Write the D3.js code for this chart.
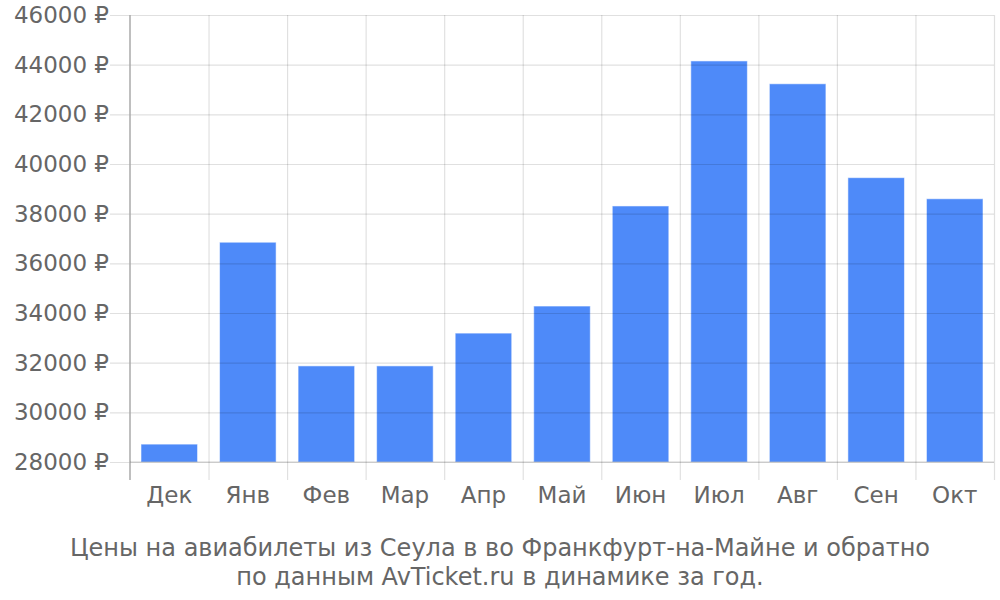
<!DOCTYPE html>
<html><head><meta charset="utf-8">
<script src="https://cdn.jsdelivr.net/npm/d3@7"></script>
<style>body{margin:0;background:#fff}svg{display:block}</style>
</head><body>
<svg id="c" width="1000" height="600"></svg>
<script>
const categories = ["Дек","Янв","Фев","Мар","Апр","Май","Июн","Июл","Авг","Сен","Окт"];
const prices = [28720, 36850, 31870, 31870, 33190, 34280, 38310, 44150, 43230, 39450, 38600];
const yTicks = [28000,30000,32000,34000,36000,38000,40000,42000,44000,46000];
const captionLines = ["Цены на авиабилеты из Сеула в во Франкфурт-на-Майне и обратно","по данным AvTicket.ru в динамике за год."];

const svg = d3.select("#c");
const font = "DejaVu Sans, sans-serif";
const L = 130, R = 994, T = 15, B = 462;
const x = d3.scaleBand().domain(categories).range([L, R]).paddingInner(0.28).paddingOuter(0.14);
const y = d3.scaleLinear().domain([28000, 46000]).range([B, T]);

// bars
svg.append("g").selectAll("rect").data(prices).join("rect")
  .attr("x", (d,i) => x(categories[i]))
  .attr("width", x.bandwidth())
  .attr("y", d => y(d))
  .attr("height", d => B - y(d))
  .attr("fill", "#4e8af9")
  .attr("stroke", "rgba(255,255,255,0.55)")
  .attr("stroke-width", 1);

// grid horizontal
const gy = svg.append("g").attr("transform", `translate(${R},0)`);
gy.call(d3.axisLeft(y).tickValues(yTicks).tickSize(R - 110).tickFormat(""));
gy.select(".domain").remove();
gy.selectAll("line").attr("stroke", "rgba(0,0,0,0.12)").attr("stroke-width", 1.2);

// labels
const gl = svg.append("g").attr("transform", `translate(110,0)`);
gl.call(d3.axisLeft(y).tickValues(yTicks).tickSize(0).tickPadding(1).tickFormat(d => d + " ₽"));
gl.select(".domain").remove();
gl.selectAll("text").attr("font-family", font).attr("font-size", 23).attr("fill", "#666");

// vertical grid lines at band boundaries
const xb = d3.scaleLinear().domain([0, categories.length]).range([L, R]);
const gx = svg.append("g").attr("transform", `translate(0,480)`);
gx.call(d3.axisBottom(xb).tickValues(d3.range(1, categories.length+1)).tickSize(-(480 - T)).tickFormat(""));
gx.select(".domain").remove();
gx.selectAll("line").attr("stroke", "rgba(0,0,0,0.12)").attr("stroke-width", 1.2);

// left axis line
svg.append("line").attr("x1", L).attr("x2", L).attr("y1", T).attr("y2", 480)
  .attr("stroke", "#aaa").attr("stroke-width", 1.5);
// bottom baseline
svg.append("line").attr("x1", L).attr("x2", R).attr("y1", B).attr("y2", B)
  .attr("stroke", "rgba(0,0,0,0.18)").attr("stroke-width", 1.2);

// category labels
const gc = svg.append("g").attr("transform", `translate(0,${B})`);
gc.call(d3.axisBottom(x).tickSize(0).tickPadding(25));
gc.select(".domain").remove();
gc.selectAll("text").attr("font-family", font).attr("font-size", 23).attr("fill", "#666");

// caption
svg.append("g").selectAll("text").data(captionLines).join("text")
  .attr("x", 500).attr("y", (d,i) => 556 + i*29)
  .attr("text-anchor", "middle")
  .attr("font-family", font).attr("font-size", 24).attr("fill", "#666")
  .text(d => d);
</script>
</body></html>
